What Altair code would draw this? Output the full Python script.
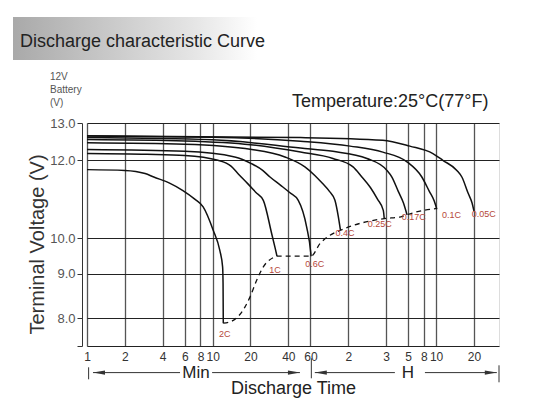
import altair as alt
import pandas as pd

# ---------------- data ----------------
# x axis: discharge time in minutes (log scale); labels as printed on the chart
tick_minutes = [1, 2, 4, 6, 8, 10, 20, 40, 60, 120, 240, 360, 480, 600, 1200]
tick_labels = ["1", "2", "4", "6", "8", "10", "20", "40", "60", "2", "3", "5", "8", "10", "20"]
time_domain = [1, 1900]

# y axis: terminal voltage (V)
volt_ticks = [7.3, 8, 9, 10, 12, 13]
volt_px = [223, 195, 150.6, 115, 37.3, 0]  # spacing of the printed grid

rates = ["2C", "1C", "0.6C", "0.4C", "0.25C", "0.17C", "0.1C", "0.05C"]

t_2c = [1, 2, 2.9, 3.4, 4.5, 5.8, 7.2, 8.4, 10.1, 11.4, 12.0, 12.1, 12.15]
v_2c = [11.76, 11.74, 11.66, 11.57, 11.42, 11.22, 11.0, 10.8, 10.2, 9.65, 9.19, 8.78, 7.87]

t_1c = [1, 3, 6, 11, 14, 16, 19, 22, 25.3, 29.5, 31.5, 32.5]
v_1c = [12.18, 12.16, 12.13, 12.0, 11.85, 11.65, 11.4, 11.18, 10.97, 10.11, 9.7, 9.49]

t_06c = [1, 6, 15, 20.5, 25, 28.6, 35, 41, 48, 56, 60.3, 60.7]
v_06c = [12.29, 12.24, 12.09, 11.91, 11.74, 11.57, 11.35, 11.17, 10.97, 10.28, 9.6, 9.49]

t_04c = [1, 6, 20.5, 37.6, 54.2, 65, 75, 85, 94, 100, 104]
v_04c = [12.47, 12.43, 12.29, 12.09, 11.83, 11.61, 11.4, 11.2, 10.97, 10.55, 10.2]

t_025c = [1, 6, 20, 50, 90.6, 131, 154, 180, 205, 228, 232]
v_025c = [12.56, 12.52, 12.42, 12.22, 12.05, 11.83, 11.57, 11.3, 11.0, 10.71, 10.5]

t_017c = [1, 10, 50, 90.6, 169, 244, 267, 300, 330, 352]
v_017c = [12.61, 12.55, 12.33, 12.24, 12.05, 11.74, 11.57, 11.2, 10.9, 10.6]

t_01c = [1, 10, 50, 124, 226, 352, 462, 530, 580, 608]
v_01c = [12.65, 12.62, 12.51, 12.38, 12.22, 11.96, 11.57, 11.2, 10.95, 10.74]

t_005c = [1, 50, 226, 371, 566, 679, 878, 962, 1080, 1160, 1200]
v_005c = [12.66, 12.61, 12.54, 12.38, 12.18, 12.0, 11.74, 11.57, 11.15, 10.9, 10.7]

# dashed line joining the end-of-discharge points
t_end = [12.15, 14.6, 18.1, 19.8, 22.4, 25.3, 30.4, 32.5, 60.7, 71.4, 85.8, 104, 232, 309, 352, 473, 608]
v_end = [7.87, 7.94, 8.25, 8.47, 8.85, 9.19, 9.45, 9.49, 9.49, 9.84, 10.07, 10.2, 10.5, 10.54, 10.6, 10.71, 10.76]

# rate labels
label_t = [12.5, 31.3, 65, 113, 214, 399, 796, 1439]
label_v = [7.61, 9.09, 9.28, 10.13, 10.35, 10.53, 10.6, 10.61]

# time-range brackets under the axis (Min / H)
seg_start = [1.116, 9.9, 65, 489]
seg_end = [5.5, 49.5, 282, 1826]
bar_t = [1.03, 61, 1900]
bar_top = [244.3, 235.3, 242.3]
bar_bottom = [256.3, 255.3, 259.3]
arrow_left_t = [1.116, 65]
arrow_right_t = [49.5, 1826]
unit_text = ["Min", "H"]
unit_t = [7.37, 358]

# ---------------- tables ----------------
series = [t_2c, t_1c, t_06c, t_04c, t_025c, t_017c, t_01c, t_005c]
values = [v_2c, v_1c, v_06c, v_04c, v_025c, v_017c, v_01c, v_005c]
rows = []
for r, ts, vs in zip(rates, series, values):
    for i, (t, v) in enumerate(zip(ts, vs)):
        rows.append({"rate": r, "t": t, "v": v, "i": i})
curves_df = pd.DataFrame(rows)
end_df = pd.DataFrame({"t": t_end, "v": v_end, "i": range(len(t_end))})
labels_df = pd.DataFrame({"rate": rates, "t": label_t, "v": label_v})
seg_df = pd.DataFrame({"t": seg_start, "t2": seg_end})
arrl_df = pd.DataFrame({"t": arrow_left_t})
arrr_df = pd.DataFrame({"t": arrow_right_t})
unit_df = pd.DataFrame({"txt": unit_text, "t": unit_t})
one = pd.DataFrame({"a": [0]})

FONT = "Liberation Sans"
label_expr = "[" + ",".join("'%s'" % s for s in tick_labels) + "][indexof([" + \
    ",".join(str(v) for v in tick_minutes) + "], datum.value)]"

xscale = alt.Scale(type="log", domain=time_domain, nice=False)
yscale = alt.Scale(domain=volt_ticks, range=volt_px, zero=False, nice=False)

x_axis = alt.Axis(values=tick_minutes, labelExpr=label_expr, grid=True, gridColor="#555",
                  gridWidth=1.3, ticks=False, domain=False, labelFontSize=12, labelColor="#333",
                  labelPadding=5, labelOverlap=False, labelFlush=False, labelFont=FONT,
                  title="Discharge Time", titleFont=FONT, titleFontSize=18,
                  titleFontWeight="normal", titleColor="#222", titleBaseline="alphabetic",
                  titleY=47)
y_axis = alt.Axis(values=volt_ticks,
                  labelExpr="datum.value < 7.5 ? '' : format(datum.value, '.1f')",
                  grid=True, gridColor="#222", gridWidth=1.2, offset=5, tickSize=5,
                  tickColor="#333", domainColor="#333", labelFontSize=13, labelColor="#555",
                  labelPadding=2, labelFont=FONT,
                  title="Terminal Voltage (V)", titleFont=FONT, titleFontSize=20,
                  titleFontWeight="normal", titleColor="#333", titleAngle=270,
                  titleAlign="center", titleBaseline="middle", titleX=-45, titleY=121)


def X(field="t"):
    return alt.X(field + ":Q", scale=xscale, axis=x_axis, title="Discharge Time")


def Y(field="v"):
    return alt.Y(field + ":Q", scale=yscale, axis=y_axis, title="Terminal Voltage (V)")


curves = alt.Chart(curves_df).mark_line(color="#111", strokeWidth=1.5, interpolate="monotone").encode(
    x=X(), y=Y(), detail="rate:N", order="i:Q")

end_line = alt.Chart(end_df).mark_line(color="#111", strokeWidth=1.3, strokeDash=[5, 4],
                                       interpolate="monotone").encode(
    x=X(), y=Y(), order="i:Q")

rate_labels = alt.Chart(labels_df).mark_text(font=FONT, fontSize=9, color="#b5473a").encode(
    x=X(), y=Y(), text="rate:N")

segs = alt.Chart(seg_df).mark_rule(color="#333", strokeWidth=1).encode(
    x=X(), x2="t2:Q", y=alt.value(249.6))
bar_layers = [
    alt.Chart(pd.DataFrame({"t": [bt]})).mark_rule(color="#333", strokeWidth=1).encode(
        x=X(), y=alt.value(b1), y2=alt.value(b2))
    for bt, b1, b2 in zip(bar_t, bar_top, bar_bottom)
]
arr_l = alt.Chart(arrl_df).mark_point(shape="M0,0 L2,-0.35 L2,0.35 Z", filled=True, size=144,
                                      color="#333", opacity=1).encode(x=X(), y=alt.value(249.6))
arr_r = alt.Chart(arrr_df).mark_point(shape="M0,0 L-2,-0.35 L-2,0.35 Z", filled=True, size=144,
                                      color="#333", opacity=1).encode(x=X(), y=alt.value(249.6))
units = alt.Chart(unit_df).mark_text(font=FONT, fontSize=17, color="#222", baseline="middle").encode(
    x=X(), y=alt.value(250), text="txt:N")

title_bg = alt.Chart(one).mark_rect(
    color=alt.Gradient(gradient="linear",
                       stops=[alt.GradientStop(color="#a9a9a9", offset=0),
                              alt.GradientStop(color="#e6e6e6", offset=0.75),
                              alt.GradientStop(color="#ffffff", offset=1)],
                       x1=0, x2=1, y1=0, y2=0)
).encode(x=alt.value(-74), x2=alt.value(170), y=alt.value(-106), y2=alt.value(-63))
title_txt = alt.Chart(one).mark_text(font=FONT, fontSize=18, color="#222", align="left",
                                     baseline="alphabetic", text="Discharge characteristic Curve").encode(
    x=alt.value(-67), y=alt.value(-76))
batt_txt = alt.Chart(one).mark_text(font=FONT, fontSize=10, color="#555", align="left",
                                    baseline="middle", lineBreak="\n", lineHeight=13,
                                    text="12V\nBattery\n(V)").encode(
    x=alt.value(-37), y=alt.value(-46))
temp_txt = alt.Chart(one).mark_text(font=FONT, fontSize=18, color="#222", align="left",
                                    baseline="alphabetic", text="Temperature:25°C(77°F)").encode(
    x=alt.value(205), y=alt.value(-16))

chart = alt.layer(
    curves, end_line, rate_labels, segs, *bar_layers, arr_l, arr_r, units,
    title_bg, title_txt, batt_txt, temp_txt,
).properties(
    width=412, height=223,
    autosize=alt.AutoSizeParams(type="none"),
    padding={"left": 79, "top": 115, "right": 30, "bottom": 52},
).configure_view(stroke="#000", strokeWidth=1.6).configure(font=FONT)

chart.save("out.html", embed_options={"renderer": "svg", "actions": False})
